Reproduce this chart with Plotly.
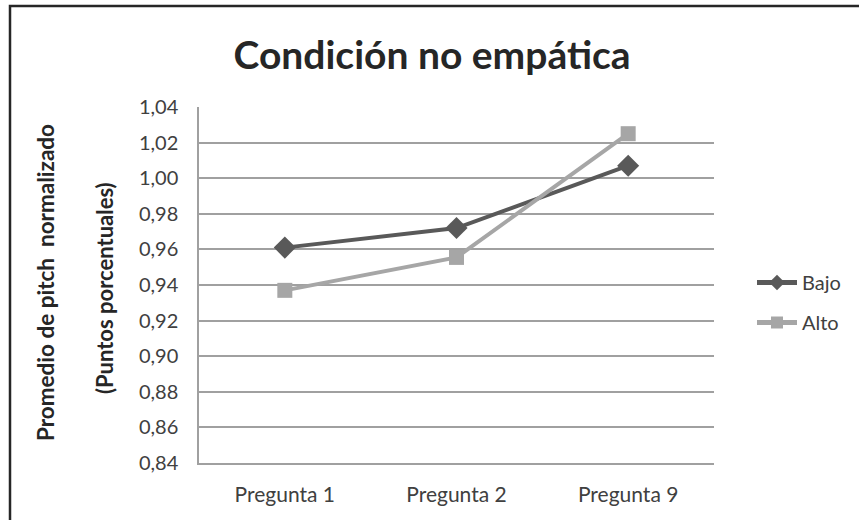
import plotly.graph_objects as go

categories = ["Pregunta 1", "Pregunta 2", "Pregunta 9"]
bajo = [0.961, 0.972, 1.007]
alto = [0.937, 0.9555, 1.025]
tick_vals = [0.84, 0.86, 0.88, 0.90, 0.92, 0.94, 0.96, 0.98, 1.00, 1.02, 1.04]

W, H = 859, 520
L, R, T, B = 199, 714, 107, 463

FONT = "Lato"

fig = go.Figure()
fig.add_trace(go.Scatter(
    x=categories, y=bajo, name="Bajo", mode="lines+markers", legendgroup="b",
    line=dict(color="#595959", width=4),
    marker=dict(symbol="diamond", size=17, color="#595959"),
))
fig.add_trace(go.Scatter(
    x=categories, y=alto, name="Alto", mode="lines+markers", legendgroup="a",
    line=dict(color="#a6a6a6", width=4),
    marker=dict(symbol="square", size=15, color="#a6a6a6"),
))

def px_x(p):
    return (p - L) / (R - L)

def px_y(p):
    return (B - p) / (B - T)

fig.update_layout(
    width=W, height=H,
    margin=dict(l=L, r=W - R, t=T, b=H - B, pad=0),
    paper_bgcolor="white", plot_bgcolor="white",
    separators=",.",
    font=dict(family=FONT, color="#404040"),
    title=dict(text="<b>Condición no empática</b>", x=0.503, xanchor="center",
               y=1 - 55 / H, yanchor="middle",
               font=dict(size=39, color="#262626", family=FONT)),
    xaxis=dict(range=[-0.5, 2.5], showgrid=False, showline=True,
               linecolor="#a0a0a0", linewidth=1.5, ticks="",
               tickfont=dict(size=21, color="#404040"),
               ticklabelstandoff=12),
    yaxis=dict(range=[0.84, 1.04], tickvals=tick_vals, tickformat=".2f",
               showgrid=True, gridcolor="#a0a0a0", gridwidth=1.5,
               showline=True, linecolor="#a0a0a0", linewidth=1.5,
               zeroline=False, ticks="",
               tickfont=dict(size=20, color="#404040"),
               ticklabelstandoff=15),
    legend=dict(x=px_x(752), y=px_y(263), xanchor="left", yanchor="top",
                font=dict(size=20, color="#404040"), tracegroupgap=11,
                itemsizing="constant", itemwidth=40,
                bgcolor="rgba(0,0,0,0)"),
    showlegend=True,
)

fig.add_annotation(text="<b>Promedio de pitch  normalizado</b>", textangle=-90,
                   xref="paper", yref="paper", x=px_x(45), y=px_y(283),
                   showarrow=False, font=dict(size=22.5, color="#262626"),
                   xanchor="center", yanchor="middle")
fig.add_annotation(text="<b>(Puntos porcentuales)</b>", textangle=-90,
                   xref="paper", yref="paper", x=px_x(104), y=px_y(288),
                   showarrow=False, font=dict(size=22, color="#262626"),
                   xanchor="center", yanchor="middle")

fig.add_shape(type="rect", xref="paper", yref="paper",
              x0=px_x(10), x1=px_x(900), y0=px_y(560), y1=px_y(6),
              line=dict(color="#262626", width=2.5), fillcolor="rgba(0,0,0,0)",
              layer="below")

fig.write_html("out.html", config={"displayModeBar": False},
               post_script="document.body.style.margin='0';")
